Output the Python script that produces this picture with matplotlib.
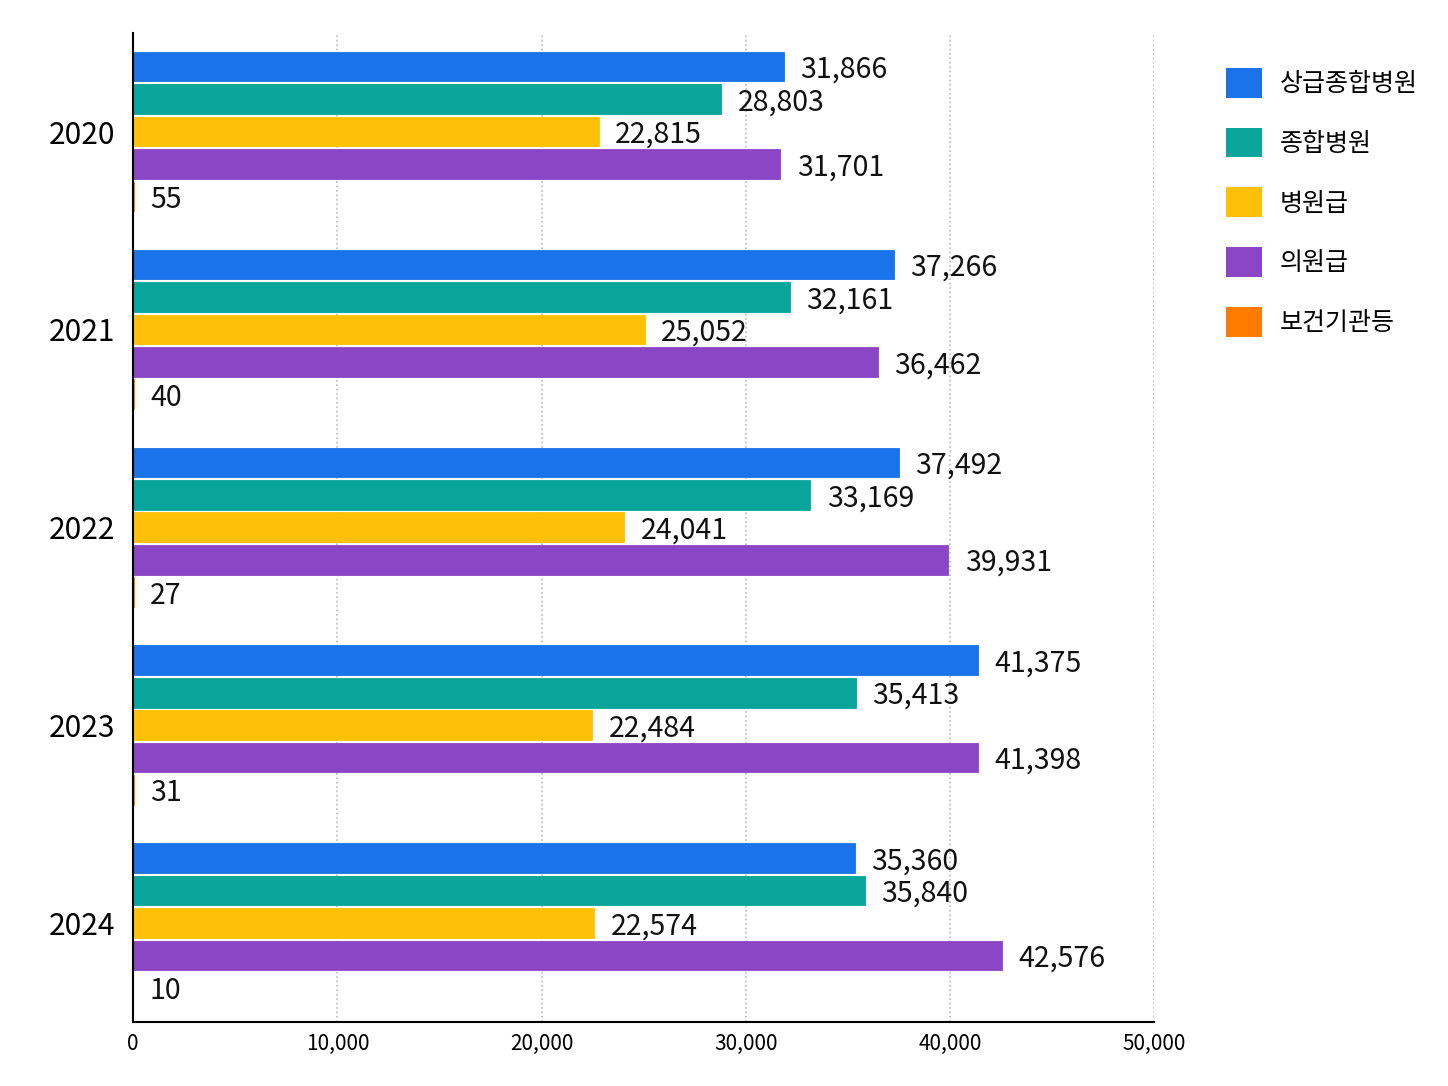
import numpy as np
import matplotlib
matplotlib.use("Agg")
import matplotlib.pyplot as plt
from matplotlib.patches import Patch

plt.rcParams['font.family'] = ['Noto Sans CJK KR', 'DejaVu Sans']

# 데이터
years = ["2020", "2021", "2022", "2023", "2024"]
series = ["상급종합병원", "종합병원", "병원급", "의원급", "보건기관등"]
sanggeup = [31866, 37266, 37492, 41375, 35360]
jonghap = [28803, 32161, 33169, 35413, 35840]
byeongwon = [22815, 25052, 24041, 22484, 22574]
uiwon = [31701, 36462, 39931, 41398, 42576]
bogeon = [55, 40, 27, 31, 10]
colors = ["#1a73e8", "#0aa59a", "#ffc107", "#8a46c4", "#ff7c00"]

values = [sanggeup, jonghap, byeongwon, uiwon, bogeon]

fig = plt.figure(figsize=(14.48, 10.86), dpi=100)
ax = fig.add_axes([0.092, 0.059, 0.705, 0.911])

step = 0.164
height = 0.15
y = np.arange(len(years))
for i, (name, vals, c) in enumerate(zip(series, values, colors)):
    pos = y + (i - 2) * step
    ax.barh(pos, vals, height=height, color=c, edgecolor=c, linewidth=0.6,
            label=name, zorder=3)
    for p, v in zip(pos, vals):
        ax.text(v + 800, p + 0.017, f"{v:,}", va="center", ha="left",
                fontsize=20.5, color="#111111")

ax.set_xlim(0, 50000)
ax.set_ylim(len(years) - 0.5, -0.5)
ax.set_yticks(y)
ax.set_yticklabels(years, fontsize=21.5)
ax.set_xticks(range(0, 50001, 10000))
ax.set_xticklabels([f"{t:,}" for t in range(0, 50001, 10000)], fontsize=15)
ax.tick_params(length=0, pad=8)
ax.tick_params(axis="y", pad=13)
ax.grid(axis="x", linestyle=":", color="#bbbbbb", linewidth=1.2, zorder=0)
for s in ["top", "right"]:
    ax.spines[s].set_visible(False)
for s in ["left", "bottom"]:
    ax.spines[s].set_linewidth(1.5)
    ax.spines[s].set_zorder(5)

handles = [Patch(facecolor=c, label=n) for n, c in zip(series, colors)]
fig.legend(handles=handles, loc="upper left", bbox_to_anchor=(0.831, 0.958),
           frameon=False, fontsize=18, handlelength=1.45, handleheight=1.45,
           labelspacing=1.2, handletextpad=0.7)

fig.savefig("out.png", dpi=100)
